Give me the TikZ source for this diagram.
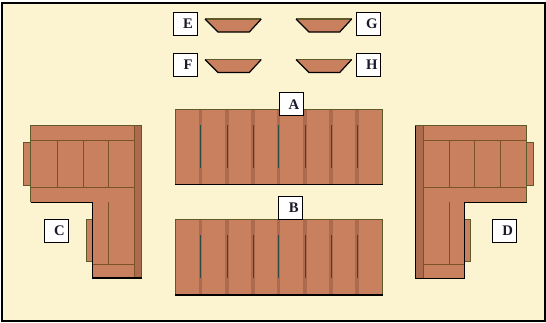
\documentclass[tikz,border=0pt]{standalone}
\usepackage{fontspec}
\setmainfont{Liberation Serif}
\definecolor{cream}{HTML}{FCF3D0}
\definecolor{wood}{HTML}{C8805F}
\definecolor{woodd}{HTML}{AC6B4E}
\definecolor{edgeo}{HTML}{5E5A2A}
\definecolor{seam}{HTML}{7A5226}
\definecolor{inkc}{HTML}{1A1A2A}
\definecolor{slotc}{HTML}{2F4A40}
\tikzset{
  px/.style={x=0.75pt,y=-0.75pt},
  lbl/.style={draw=black,line width=0.75pt,fill=white,inner sep=0pt,minimum width=18pt,minimum height=17.5pt,font=\fontsize{11}{12}\selectfont\bfseries,text=inkc},
  body/.style={fill=wood,draw=edgeo,line width=0.75pt},
  seamline/.style={draw=seam,line width=0.7pt},
  slot/.style={draw=slotc,line width=0.7pt},
  base/.style={draw=black,line width=0.85pt},
}
\newcommand{\bench}[2]{%
  \fill[wood] (175.5,#1) rectangle (382,#2);
  \foreach \x in {200.7,227,253,278.7,305,331,357}{
    \fill[woodd] (\x-1.6,#1) rectangle (\x+1.6,#2);
    \draw[slot] (\x,#1+16) -- (\x,#1+59);
  }
  \draw[body,fill=none] (175.5,#2) -- (175.5,#1) -- (382,#1) -- (382,#2);
  \draw[base] (175,#2) -- (382.5,#2);
}
\newcommand{\tray}[4]{%
  \fill[wood] (#1,#3) -- (#2,#3) -- (#2-12,#3+13) -- (#1+13,#3+13) -- cycle;
  \draw[edgeo,line width=0.9pt] (#1,#3) -- (#2,#3);
  \draw[black,line width=0.9pt] (#2,#3) -- (#2-12,#3+13) -- (#1+13,#3+13) -- (#1,#3);
}
\begin{document}
\begin{tikzpicture}[px]
\useasboundingbox (0,0) rectangle (546,322);
\fill[white] (0,0) rectangle (546,322);
\draw[fill=cream,draw=black,line width=1.5pt] (2,3) rectangle (545,321);

% trays
\tray{205}{261.3}{19}{}
\tray{296}{351.7}{19}{}
\tray{205}{261.3}{59.5}{}
\tray{296}{351.7}{59.5}{}

% benches
\bench{109}{184.7}
\bench{219}{295}

% corner C
\draw[body] (23.7,142) rectangle (30.7,185.7);
\draw[body] (86,219) rectangle (92.7,261.7);
\fill[wood] (30.7,125.7) -- (141.7,125.7) -- (141.7,278) -- (92.7,278) -- (92.7,202.3) -- (30.7,202.3) -- cycle;
\fill[woodd] (134,125.7) rectangle (141.7,278);
\draw[seamline] (30.7,140) -- (134,140);
\draw[seamline] (30.7,187.7) -- (134,187.7);
\draw[seamline] (134,125.7) -- (134,278);
\foreach \x in {57.3,83.3,108.3} \draw[seamline] (\x,140) -- (\x,187.7);
\draw[seamline] (108.3,202.3) -- (108.3,264);
\draw[seamline] (92.7,264) -- (134,264);
\draw[edgeo,line width=0.75pt] (30.7,202.3) -- (30.7,125.7) -- (141.7,125.7) -- (141.7,278);
\draw[base] (30.7,202.3) -- (92.7,202.3) -- (92.7,278) -- (141.7,278);

% corner D
\draw[body] (526.7,142) rectangle (533.3,185.7);
\draw[body] (464.3,219) rectangle (470.7,261.7);
\fill[wood] (415.3,125.7) -- (526.7,125.7) -- (526.7,202.3) -- (464.3,202.3) -- (464.3,278.3) -- (415.3,278.3) -- cycle;
\fill[woodd] (415.3,125.7) rectangle (423.7,278.3);
\draw[seamline] (423.7,140) -- (526.7,140);
\draw[seamline] (423.7,187.7) -- (526.7,187.7);
\draw[seamline] (423.7,125.7) -- (423.7,278.3);
\foreach \x in {449.3,474.7,500.7} \draw[seamline] (\x,140) -- (\x,187.7);
\draw[seamline] (449.3,202.3) -- (449.3,264);
\draw[seamline] (423.7,264) -- (464.3,264);
\draw[edgeo,line width=0.75pt] (415.3,125.7) -- (526.7,125.7) -- (526.7,202.3);
\draw[base] (526.7,202.3) -- (464.3,202.3) -- (464.3,278.3) -- (415.3,278.3) -- (415.3,125.7);

% labels
\node[lbl] (E) at (185,23.7) {\hspace{4.5pt}E};
\node[lbl] (G) at (368.7,23.7) {\hspace{4.5pt}G};
\node[lbl] (F) at (185,65) {\hspace{4.5pt}F};
\node[lbl] (H) at (368.7,65) {\hspace{4.5pt}H};
\node[lbl] (A) at (291,104.2) {\hspace{4.5pt}A};
\node[lbl] (B) at (290.7,207.8) {\hspace{4.5pt}B};
\node[lbl] (C) at (56.5,231) {\hspace{4.5pt}C};
\node[lbl] (D) at (504.7,231) {\hspace{4.5pt}D};
\end{tikzpicture}
\end{document}
